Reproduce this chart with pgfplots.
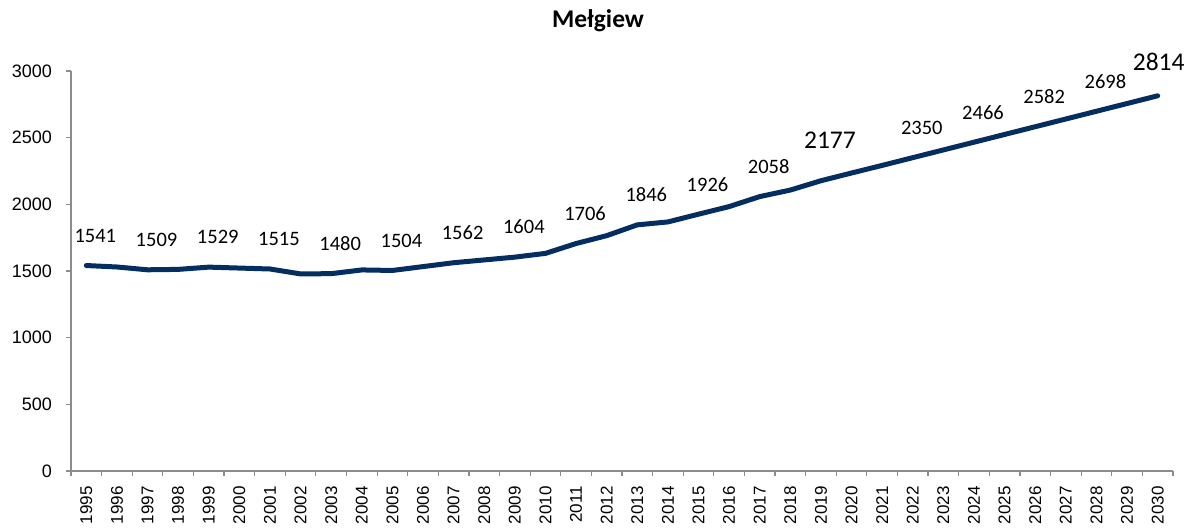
\documentclass[border=0pt]{standalone}
\usepackage{pgfplots}
\pgfplotsset{compat=1.18}
\usepackage{fontspec}
\setmainfont{Carlito}
\newfontfamily\arialfont{Liberation Sans}
\definecolor{lineNavy}{RGB}{4,45,96}
\definecolor{axisGray}{RGB}{140,140,140}

\begin{document}
\begin{tikzpicture}
\path[use as bounding box] (0,0) rectangle (1188pt,529pt);

% title
\node[anchor=base, font=\fontsize{25.5}{30}\selectfont\bfseries] at (598pt,501pt) {Mełgiew};

\begin{axis}[
    at={(71pt,58pt)}, anchor=south west,
    scale only axis,
    width=1102pt, height=400pt,
    xmin=1994.5, xmax=2030.5,
    ymin=0, ymax=3000,
    axis x line*=bottom,
    axis y line*=left,
    axis line style={draw=axisGray, line width=1.3pt},
    clip=false,
    % tick marks between the years
    xtick={1994.5,1995.5,...,2030.5},
    xticklabels={},
    tick align=outside,
    major tick length=5pt,
    tick style={draw=axisGray, line width=1.2pt},
    % year labels at the centres
    extra x ticks={1995,1996,...,2030},
    extra x tick style={
        major tick length=0pt,
        xticklabel={\pgfmathparse{int(round(\tick))}\pgfmathresult},
        xticklabel style={rotate=90, anchor=east, inner sep=0pt,
            font=\arialfont\fontsize{17}{20}\selectfont},
        xticklabel shift=15pt,
    },
    ytick={0,500,...,3000},
    yticklabel style={anchor=east, inner sep=0pt,
        font=\arialfont\fontsize{18}{21}\selectfont},
    yticklabel shift=14pt,
    /pgf/number format/assume math mode=true,
    /pgf/number format/set thousands separator={},
]

\addplot[color=lineNavy, line width=5pt, line join=round, line cap=round, mark=none]
    coordinates {
    (1995,1541) (1996,1530) (1997,1509) (1998,1512) (1999,1529) (2000,1522)
    (2001,1515) (2002,1478) (2003,1480) (2004,1508) (2005,1504) (2006,1533)
    (2007,1562) (2008,1583) (2009,1604) (2010,1632) (2011,1706) (2012,1765)
    (2013,1846) (2014,1868) (2015,1926) (2016,1983) (2017,2058) (2018,2107)
    (2019,2177) (2020,2235) (2021,2292) (2022,2350) (2023,2408) (2024,2466)
    (2025,2524) (2026,2582) (2027,2640) (2028,2698) (2029,2756) (2030,2814)
    };

% data labels
\tikzset{lbl/.style={font=\fontsize{20.5}{24}\selectfont, xshift=9pt, yshift=30pt}}
\node[lbl] at (axis cs:1995,1541) {1541};
\node[lbl] at (axis cs:1997,1509) {1509};
\node[lbl] at (axis cs:1999,1529) {1529};
\node[lbl] at (axis cs:2001,1515) {1515};
\node[lbl] at (axis cs:2003,1480) {1480};
\node[lbl] at (axis cs:2005,1504) {1504};
\node[lbl] at (axis cs:2007,1562) {1562};
\node[lbl] at (axis cs:2009,1604) {1604};
\node[lbl] at (axis cs:2011,1706) {1706};
\node[lbl] at (axis cs:2013,1846) {1846};
\node[lbl] at (axis cs:2015,1926) {1926};
\node[lbl] at (axis cs:2017,2058) {2058};
\node[lbl, font=\fontsize{25.5}{30}\selectfont, yshift=11pt] at (axis cs:2019,2177) {2177};
\node[lbl] at (axis cs:2022,2350) {2350};
\node[lbl] at (axis cs:2024,2466) {2466};
\node[lbl] at (axis cs:2026,2582) {2582};
\node[lbl] at (axis cs:2028,2698) {2698};
\node[lbl, font=\fontsize{25.5}{30}\selectfont, xshift=-8pt, yshift=4pt] at (axis cs:2030,2814) {2814};

\end{axis}
\end{tikzpicture}
\end{document}
